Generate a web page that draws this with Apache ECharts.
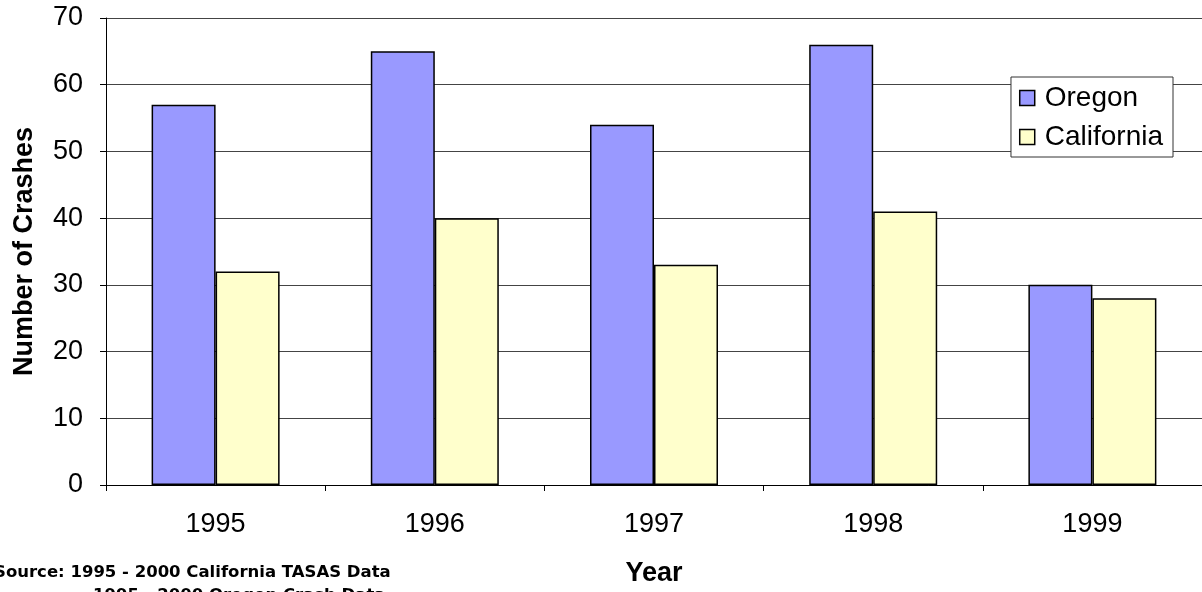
<!DOCTYPE html>
<html>
<head>
<meta charset="utf-8">
<script src="https://cdn.jsdelivr.net/npm/echarts@6/dist/echarts.min.js"></script>
<style>
  html, body { margin: 0; padding: 0; background: #fff; }
  #chart { width: 1202px; height: 592px; }
</style>
</head>
<body>
<div id="chart"></div>
<script>
// Crash counts per year, Oregon vs California
const years = ['1995', '1996', '1997', '1998', '1999'];
const oregon = [57, 65, 54, 66, 30];
const california = [32, 40, 33, 41, 28];
const yTicks = { min: 0, max: 70, interval: 10 };

const chart = echarts.init(document.getElementById('chart'));
const font = 'Arial, "Liberation Sans", sans-serif';

chart.setOption({
  animation: false,
  backgroundColor: '#ffffff',
  grid: { left: 106, top: 18, right: -9, bottom: 102, containLabel: false },
  legend: {
    orient: 'vertical',
    right: 29,
    top: 77,
    itemWidth: 15,
    itemHeight: 15,
    itemGap: 9,
    padding: [6, 10, 5, 8],
    borderColor: '#333',
    borderWidth: 1,
    backgroundColor: '#fff',
    icon: 'rect',
    itemStyle: { borderColor: '#000', borderWidth: 1.5 },
    textStyle: { fontFamily: font, fontSize: 28, lineHeight: 30, color: '#000', padding: [0, 0, 0, 5] },
    data: ['Oregon', 'California']
  },
  xAxis: {
    type: 'category',
    data: years,
    name: 'Year',
    nameLocation: 'middle',
    nameGap: 75,
    nameTextStyle: { fontFamily: font, fontSize: 27, fontWeight: 'bold', color: '#000' },
    axisLine: { lineStyle: { color: '#000', width: 1 } },
    axisTick: { show: true, length: 6, lineStyle: { color: '#000' } },
    axisLabel: { fontFamily: font, fontSize: 27, color: '#000', margin: 26 }
  },
  yAxis: {
    type: 'value',
    min: yTicks.min,
    max: yTicks.max,
    interval: yTicks.interval,
    name: 'Number of Crashes',
    nameLocation: 'middle',
    nameGap: 68,
    nameTextStyle: { fontFamily: font, fontSize: 27, fontWeight: 'bold', color: '#000' },
    axisLine: { show: true, lineStyle: { color: '#000', width: 1 } },
    axisTick: { show: true, length: 6, lineStyle: { color: '#000' } },
    axisLabel: { fontFamily: font, fontSize: 27, color: '#000', margin: 23 },
    splitLine: { show: true, lineStyle: { color: '#444', width: 1 } }
  },
  series: [
    {
      name: 'Oregon',
      type: 'bar',
      data: oregon,
      barWidth: 64,
      barGap: '0%',
      itemStyle: { color: '#9999FF', borderColor: '#000', borderWidth: 1.5 }
    },
    {
      name: 'California',
      type: 'bar',
      data: california,
      barWidth: 64,
      barGap: '0%',
      itemStyle: { color: '#FFFFCC', borderColor: '#000', borderWidth: 1.5 }
    }
  ],
  graphic: [
    {
      type: 'text',
      left: -6,
      top: 564,
      style: {
        text: 'Source: 1995 - 2000 California TASAS Data',
        font: 'bold 16.5px "DejaVu Sans", Verdana, sans-serif',
        fill: '#000'
      }
    },
    {
      type: 'text',
      left: 93,
      top: 587,
      style: {
        text: '1995 - 2000 Oregon Crash Data',
        font: 'bold 16.5px "DejaVu Sans", Verdana, sans-serif',
        fill: '#000'
      }
    }
  ]
});
</script>
</body>
</html>
